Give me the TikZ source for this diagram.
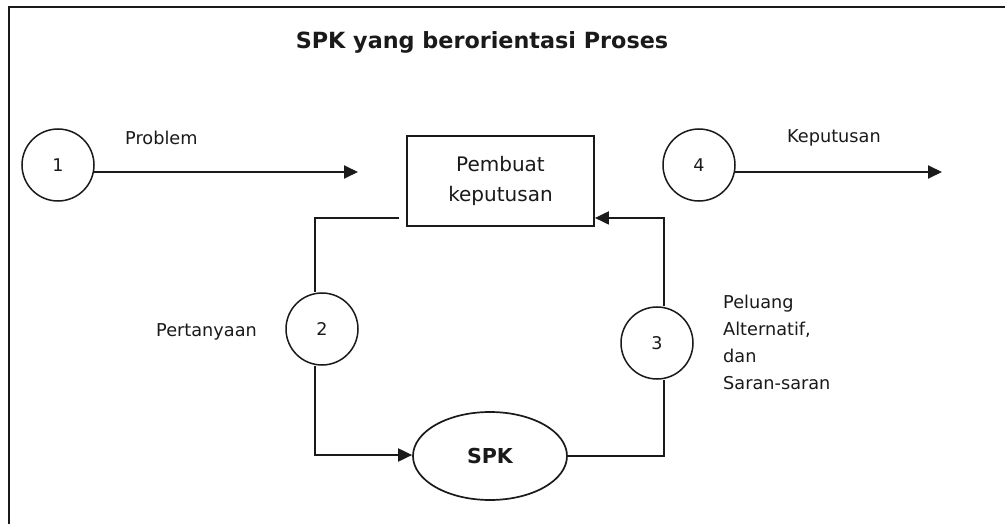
\documentclass[tikz,border=0pt]{standalone}
\usepackage{fontspec}
\setmainfont{DejaVu Sans}
\usetikzlibrary{shapes.geometric,arrows.meta,calc}
\definecolor{ink}{HTML}{1A1A1A}
\begin{document}
\begin{tikzpicture}[x=1pt,y=-1pt,
  every node/.style={text=ink},
  conn/.style={draw=ink,line width=1.9pt},
  arr/.style={conn,-{Triangle[length=14pt,width=13pt]}},
  numcirc/.style={circle,draw=ink,line width=1.5pt,minimum size=72pt,inner sep=0pt,font=\fontsize{17.5}{20}\selectfont},
  lbl/.style={font=\fontsize{17.7}{27}\selectfont,inner sep=0pt},
  ]
\useasboundingbox (0,0) rectangle (1005,524);
\fill[white] (0,0) rectangle (1005,524);
% frame
\draw[draw=ink,line width=2.6pt] (9,524) -- (9,7) -- (1005,7);
% title
\node[font=\bfseries\fontsize{22.3}{26}\selectfont,inner sep=0pt] (title) at (482,42) {SPK yang berorientasi Proses};
% nodes
\node[numcirc] (c1) at (58,165) {1};
\node[numcirc] (c2) at (322,329) {2};
\node[numcirc] (c3) at (657,343) {3};
\node[numcirc] (c4) at (699,165) {4};
\node[draw=ink,line width=1.9pt,minimum width=187pt,minimum height=90pt,inner sep=0pt,align=center,font=\fontsize{20}{30}\selectfont] (box) at (500.5,181) {Pembuat\\keputusan};
\node[ellipse,draw=ink,line width=1.7pt,minimum width=154pt,minimum height=88pt,inner sep=0pt,font=\bfseries\fontsize{20.6}{24}\selectfont] (spk) at (490,456) {SPK};
% labels
\node[lbl,anchor=west] (lprob) at (125,138) {Problem};
\node[lbl,anchor=west] (lkep) at (787,138) {Keputusan};
\node[lbl,anchor=east] (lper) at (257,332) {Pertanyaan};
\node[lbl,anchor=west,align=left] (lpel) at (723,342) {Peluang\\Alternatif,\\dan\\Saran-saran};
% free ends
\coordinate (e1) at (358,172);
\coordinate (e4) at (942,172);
% connectors
\draw[arr] (c1.-11) -- (e1);
\draw[arr] (c4.-11) -- (e4);
\draw[conn] ($(box.south west)+(-7,-9)$) -| ([xshift=-7pt]c2.north);
\draw[arr] ([xshift=-7pt]c2.south) |- ([yshift=1pt]spk.west);
\draw[conn] (spk.east) -| ([xshift=7pt]c3.south);
\draw[arr] ([xshift=7pt]c3.north) |- ($(box.south east)+(0,-9)$);
\end{tikzpicture}
\end{document}
